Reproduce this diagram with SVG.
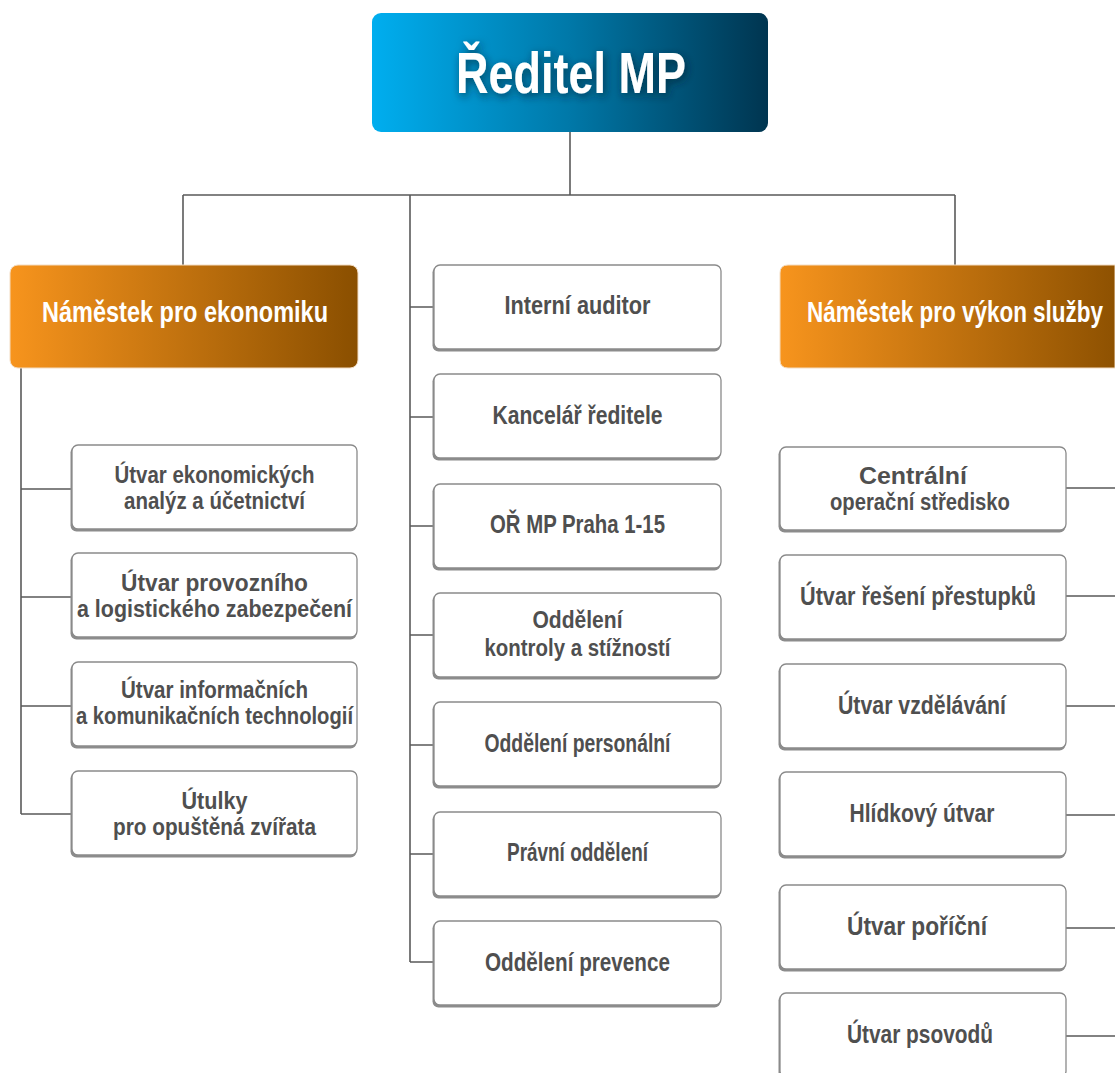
<svg xmlns="http://www.w3.org/2000/svg" width="1115" height="1073" viewBox="0 0 1115 1073">
<defs>
<linearGradient id="gBlue" x1="0" y1="0" x2="1" y2="0">
<stop offset="0" stop-color="#00aeef"/>
<stop offset="0.5" stop-color="#0078a8"/>
<stop offset="1" stop-color="#003550"/>
</linearGradient>
<linearGradient id="gOrange" x1="0" y1="0" x2="1" y2="0">
<stop offset="0" stop-color="#f7941d"/>
<stop offset="1" stop-color="#8a4f00"/>
</linearGradient>
<linearGradient id="gOrange2" gradientUnits="userSpaceOnUse" x1="780" y1="0" x2="1128" y2="0">
<stop offset="0" stop-color="#f7941d"/>
<stop offset="1" stop-color="#8a4f00"/>
</linearGradient>
<filter id="tshadow" x="-20%" y="-30%" width="140%" height="160%">
<feDropShadow dx="2" dy="3" stdDeviation="4" flood-color="#002030" flood-opacity="0.7"/>
</filter>
</defs>
<style>
.conn{fill:none;stroke:#5a5a5a;stroke-width:1.6}
.box{fill:#ffffff;stroke:#8a8a8a;stroke-width:1.3}
.shd{fill:#8c8c8c}
.hdr{stroke:#f3dcc2;stroke-width:1}
.t{font-family:"Liberation Sans",Arial,sans-serif;font-weight:bold;fill:#4f4f4f;text-anchor:middle;font-size:25px}
.t2{font-size:23px}
.h{font-family:"Liberation Sans",Arial,sans-serif;font-weight:bold;fill:#ffffff;text-anchor:middle;font-size:30px}
.title{font-family:"Liberation Sans",Arial,sans-serif;font-weight:bold;fill:#ffffff;text-anchor:middle;font-size:57px}
</style>

<g id="connectors">
<path class="conn" d="M570,132 V195 M183,195 H955 M183,195 V265 M955,195 V265 M410,195 V962"/>
<path class="conn" d="M410,307 H434 M410,417 H434 M410,526 H434 M410,635 H434 M410,745 H434 M410,854 H434 M410,962 H434"/>
<path class="conn" d="M21,368 V814 M21,489 H72 M21,597 H72 M21,706 H72 M21,814 H72"/>
<path class="conn" d="M1066,488 H1115 M1066,596 H1115 M1066,706 H1115 M1066,815 H1115 M1066,928 H1115 M1066,1036 H1115"/>
</g>

<g id="director">
<rect x="372" y="13" width="396" height="119" rx="9" fill="url(#gBlue)"/>
<text class="title" x="571" y="93" textLength="230" lengthAdjust="spacingAndGlyphs" filter="url(#tshadow)">Ředitel MP</text>
</g>

<g id="deputy-economy">
<rect class="hdr" x="10" y="265" width="348" height="103" rx="8" fill="url(#gOrange)"/>
<text class="h" x="185" y="322" textLength="286" lengthAdjust="spacingAndGlyphs">Náměstek pro ekonomiku</text>
</g>

<g id="deputy-service">
<path class="hdr" d="M1115,265 H788 Q780,265 780,273 V360 Q780,368 788,368 H1115 Z" fill="url(#gOrange2)"/>
<text class="h" x="0" y="0" transform="translate(955,322) scale(0.75,1)">Náměstek pro výkon služby</text>
</g>

<!-- left column -->
<g id="l1">
<rect class="shd" x="70.5" y="446.5" width="286" height="85" rx="6"/>
<rect class="box" x="72" y="445" width="285" height="84" rx="6"/>
<text class="t t2" x="214.5" y="483" textLength="200" lengthAdjust="spacingAndGlyphs">Útvar ekonomických</text>
<text class="t t2" x="214.5" y="509" textLength="181" lengthAdjust="spacingAndGlyphs">analýz a účetnictví</text>
</g>
<g id="l2">
<rect class="shd" x="70.5" y="554.5" width="286" height="85" rx="6"/>
<rect class="box" x="72" y="553" width="285" height="84" rx="6"/>
<text class="t t2" x="214.5" y="591" textLength="187" lengthAdjust="spacingAndGlyphs">Útvar provozního</text>
<text class="t t2" x="214.5" y="617" textLength="275" lengthAdjust="spacingAndGlyphs">a logistického zabezpečení</text>
</g>
<g id="l3">
<rect class="shd" x="70.5" y="663.5" width="286" height="85" rx="6"/>
<rect class="box" x="72" y="662" width="285" height="84" rx="6"/>
<text class="t t2" x="214.5" y="698" textLength="187" lengthAdjust="spacingAndGlyphs">Útvar informačních</text>
<text class="t t2" x="214.5" y="724" textLength="277" lengthAdjust="spacingAndGlyphs">a komunikačních technologií</text>
</g>
<g id="l4">
<rect class="shd" x="70.5" y="772.5" width="286" height="85" rx="6"/>
<rect class="box" x="72" y="771" width="285" height="84" rx="6"/>
<text class="t t2" x="214.5" y="809" textLength="66" lengthAdjust="spacingAndGlyphs">Útulky</text>
<text class="t t2" x="214.5" y="835" textLength="203" lengthAdjust="spacingAndGlyphs">pro opuštěná zvířata</text>
</g>

<!-- middle column -->
<g id="m1">
<rect class="shd" x="432.5" y="266.5" width="288" height="85" rx="6"/>
<rect class="box" x="434" y="265" width="287" height="84" rx="6"/>
<text class="t" x="577.5" y="314" textLength="146" lengthAdjust="spacingAndGlyphs">Interní auditor</text>
</g>
<g id="m2">
<rect class="shd" x="432.5" y="375.5" width="288" height="85" rx="6"/>
<rect class="box" x="434" y="374" width="287" height="84" rx="6"/>
<text class="t" x="577.5" y="424" textLength="170" lengthAdjust="spacingAndGlyphs">Kancelář ředitele</text>
</g>
<g id="m3">
<rect class="shd" x="432.5" y="485.5" width="288" height="85" rx="6"/>
<rect class="box" x="434" y="484" width="287" height="84" rx="6"/>
<text class="t" x="577.5" y="533" textLength="175" lengthAdjust="spacingAndGlyphs">OŘ MP Praha 1-15</text>
</g>
<g id="m4">
<rect class="shd" x="432.5" y="594.5" width="288" height="85" rx="6"/>
<rect class="box" x="434" y="593" width="287" height="84" rx="6"/>
<text class="t t2" x="577.5" y="628" textLength="90" lengthAdjust="spacingAndGlyphs">Oddělení</text>
<text class="t t2" x="577.5" y="656" textLength="186" lengthAdjust="spacingAndGlyphs">kontroly a stížností</text>
</g>
<g id="m5">
<rect class="shd" x="432.5" y="703.5" width="288" height="85" rx="6"/>
<rect class="box" x="434" y="702" width="287" height="84" rx="6"/>
<text class="t" x="577.5" y="752" textLength="186" lengthAdjust="spacingAndGlyphs">Oddělení personální</text>
</g>
<g id="m6">
<rect class="shd" x="432.5" y="813.5" width="288" height="85" rx="6"/>
<rect class="box" x="434" y="812" width="287" height="84" rx="6"/>
<text class="t" x="577.5" y="861" textLength="141" lengthAdjust="spacingAndGlyphs">Právní oddělení</text>
</g>
<g id="m7">
<rect class="shd" x="432.5" y="922.5" width="288" height="85" rx="6"/>
<rect class="box" x="434" y="921" width="287" height="84" rx="6"/>
<text class="t" x="577.5" y="971" textLength="185" lengthAdjust="spacingAndGlyphs">Oddělení prevence</text>
</g>

<!-- right column -->
<g id="r1">
<rect class="shd" x="778.5" y="448.5" width="287" height="84" rx="6"/>
<rect class="box" x="780" y="447" width="286" height="83" rx="6"/>
<text class="t t2" x="913" y="484" textLength="108" lengthAdjust="spacingAndGlyphs">Centrální</text>
<text class="t t2" x="920" y="510" textLength="180" lengthAdjust="spacingAndGlyphs">operační středisko</text>
</g>
<g id="r2">
<rect class="shd" x="778.5" y="556.5" width="287" height="85" rx="6"/>
<rect class="box" x="780" y="555" width="286" height="84" rx="6"/>
<text class="t" x="918" y="605" textLength="236" lengthAdjust="spacingAndGlyphs">Útvar řešení přestupků</text>
</g>
<g id="r3">
<rect class="shd" x="778.5" y="665.5" width="287" height="85" rx="6"/>
<rect class="box" x="780" y="664" width="286" height="84" rx="6"/>
<text class="t" x="922" y="714" textLength="168" lengthAdjust="spacingAndGlyphs">Útvar vzdělávání</text>
</g>
<g id="r4">
<rect class="shd" x="778.5" y="773.5" width="287" height="85" rx="6"/>
<rect class="box" x="780" y="772" width="286" height="84" rx="6"/>
<text class="t" x="922" y="822" textLength="145" lengthAdjust="spacingAndGlyphs">Hlídkový útvar</text>
</g>
<g id="r5">
<rect class="shd" x="778.5" y="886.5" width="287" height="85" rx="6"/>
<rect class="box" x="780" y="885" width="286" height="84" rx="6"/>
<text class="t" x="917" y="935" textLength="140" lengthAdjust="spacingAndGlyphs">Útvar poříční</text>
</g>
<g id="r6">
<rect class="shd" x="778.5" y="994.5" width="287" height="85" rx="6"/>
<rect class="box" x="780" y="993" width="286" height="84" rx="6"/>
<text class="t" x="920" y="1043" textLength="146" lengthAdjust="spacingAndGlyphs">Útvar psovodů</text>
</g>
</svg>
